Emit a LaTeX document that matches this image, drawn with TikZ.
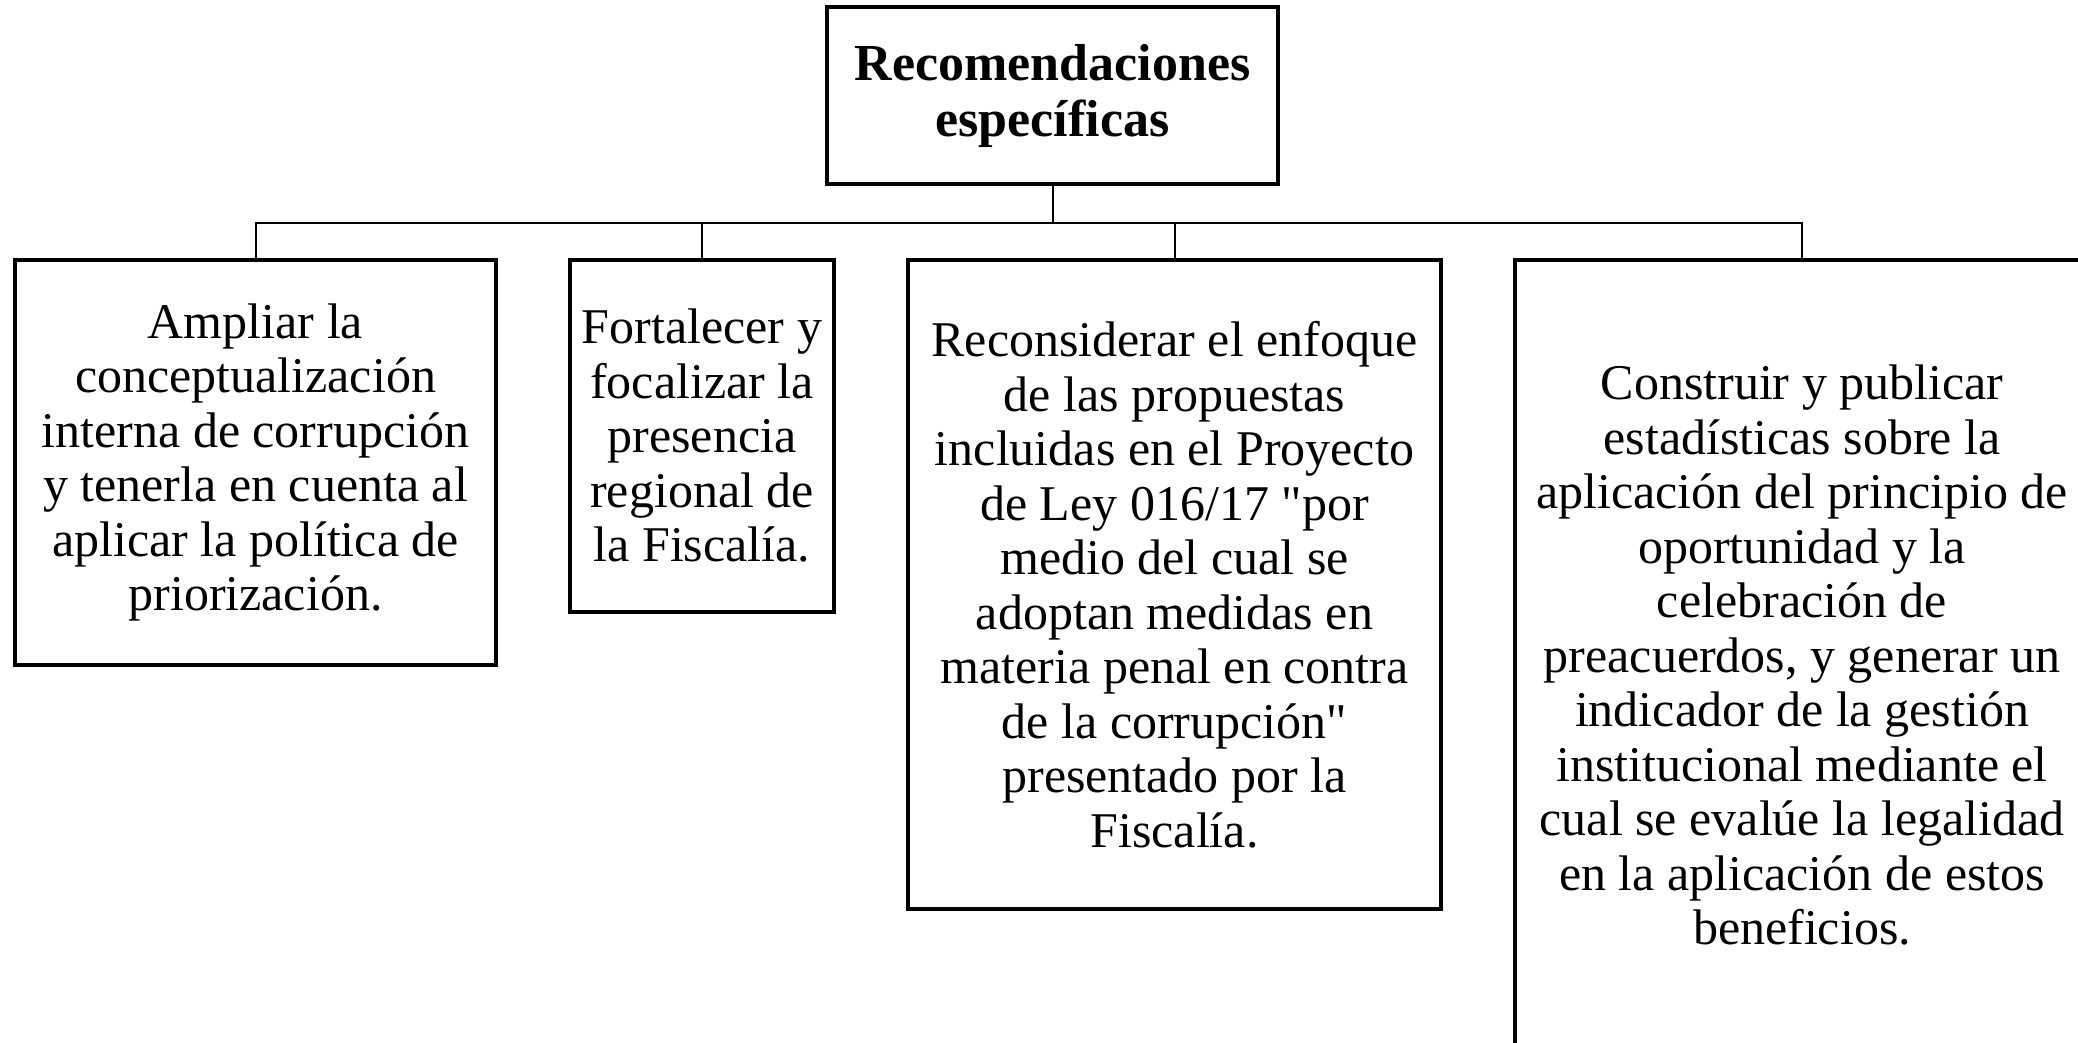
\documentclass[tikz,border=0pt]{standalone}
\usepackage{fontspec}
\setmainfont{Liberation Serif}
\begin{document}
\begin{tikzpicture}[x=1pt,y=-1pt,
  boxstyle/.style={draw=black, line width=3.3pt, rectangle, inner sep=0pt, align=center,
    font=\fontsize{50}{54.5}\selectfont},
  titlestyle/.style={boxstyle, font=\fontsize{52}{56}\selectfont\bfseries},
  linkstyle/.style={draw=black, line width=2pt}]
\useasboundingbox (0,0) rectangle (2078,1043);
\clip (0,0) rectangle (2078,1043);
\fill[white] (0,0) rectangle (2078,1043);

\node[titlestyle, minimum width=451pt, minimum height=177pt] (top) at (1052.5,95.5)
  {Recomendaciones\\específicas};

\node[boxstyle, minimum width=481pt, minimum height=405pt] (b1) at (255.5,462.5)
  {Ampliar la\\conceptualización\\interna de corrupción\\y tenerla en cuenta al\\aplicar la política de\\priorización.};

\node[boxstyle, minimum width=264pt, minimum height=352pt] (b2) at (702,436)
  {Fortalecer y\\focalizar la\\presencia\\regional de\\la Fiscalía.};

\node[boxstyle, minimum width=533pt, minimum height=649pt] (b3) at (1174.5,584.5)
  {Reconsiderar el enfoque\\de las propuestas\\incluidas en el Proyecto\\de Ley 016/17 \textquotedbl por\\medio del cual se\\adoptan medidas en\\materia penal en contra\\de la corrupción\textquotedbl\\presentado por la\\Fiscalía.};

\node[boxstyle, minimum width=574pt, minimum height=790pt] (b4) at (1802,655)
  {Construir y publicar\\estadísticas sobre la\\aplicación del principio de\\oportunidad y la\\celebración de\\preacuerdos, y generar un\\indicador de la gestión\\institucional mediante el\\cual se evalúe la legalidad\\en la aplicación de estos\\beneficios.};

\coordinate (bus) at (1052.5,223);
\draw[linkstyle] (top.south) -- (bus);
\draw[linkstyle] (b1.north) |- (bus) -| (b4.north);
\draw[linkstyle] (b2.north) -- (b2.north |- bus);
\draw[linkstyle] (b3.north) -- (b3.north |- bus);
\end{tikzpicture}
\end{document}
